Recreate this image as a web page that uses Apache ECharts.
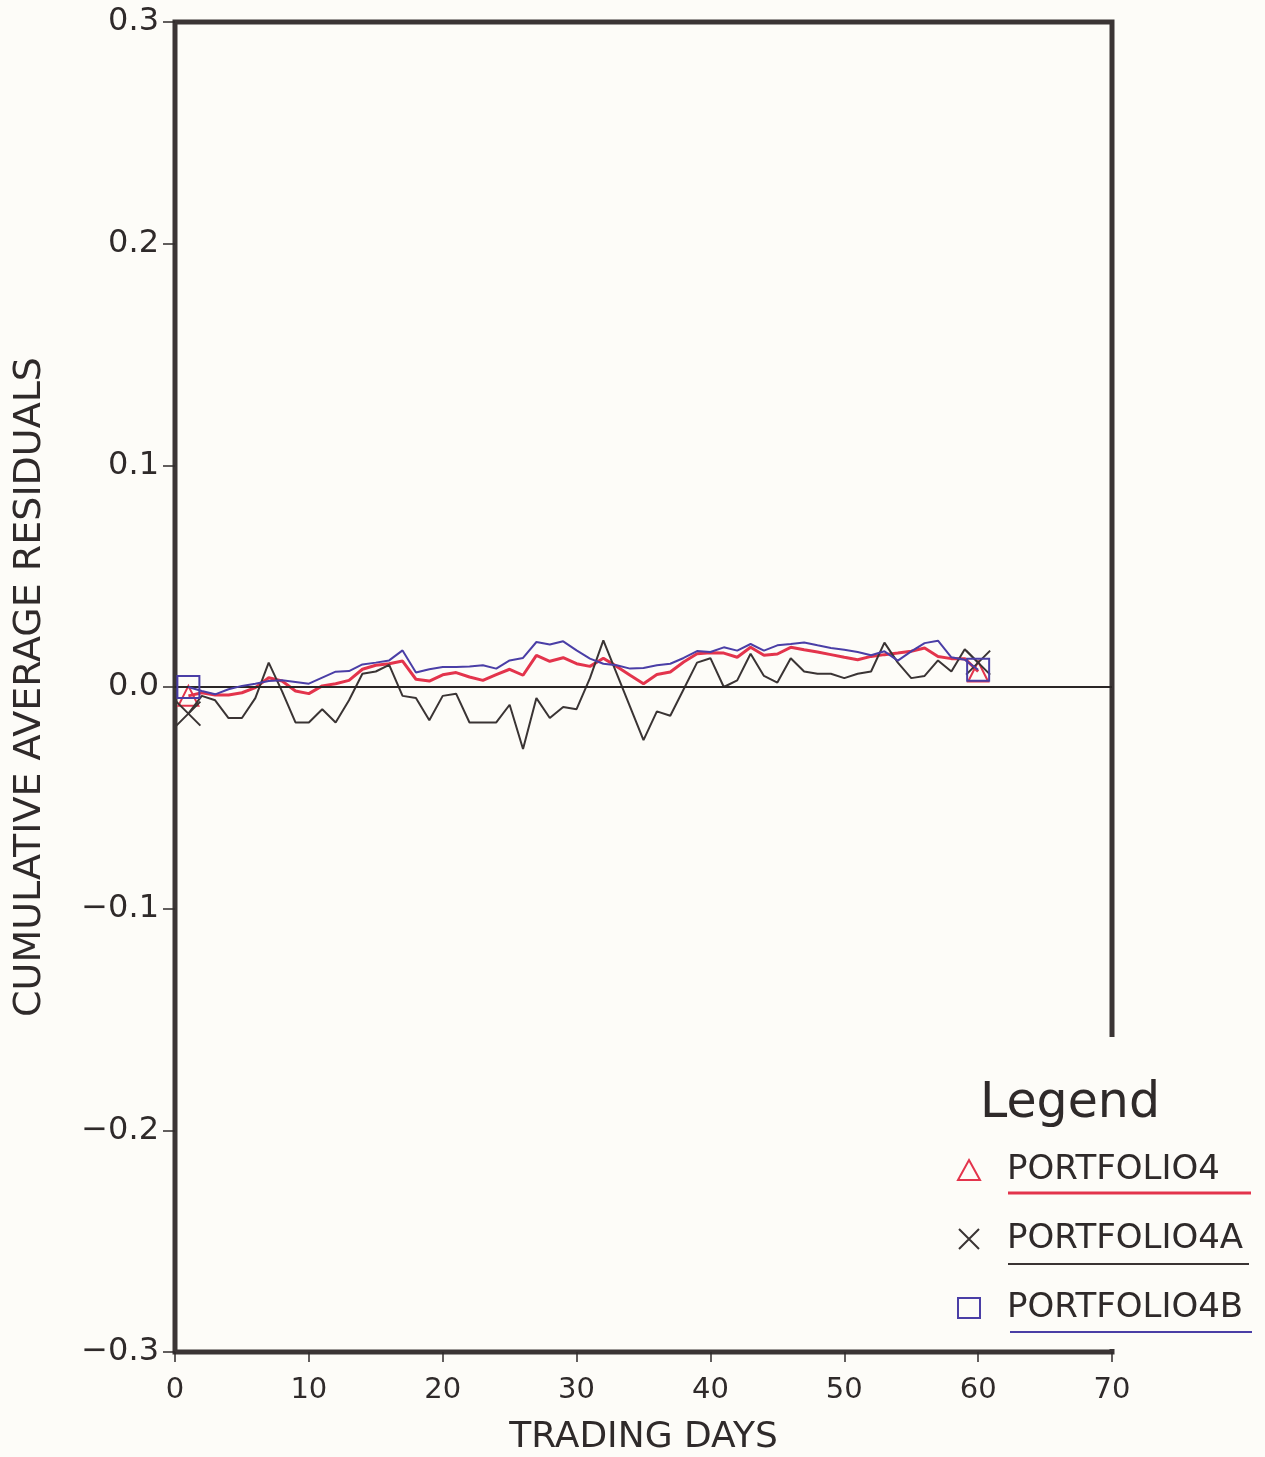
<!DOCTYPE html>
<html>
<head>
<meta charset="utf-8">
<script src="https://cdn.jsdelivr.net/npm/echarts@6/dist/echarts.min.js"></script>
<style>
  html, body { margin: 0; padding: 0; background: #fdfcf8; }
  #chart { width: 1265px; height: 1457px; }
</style>
</head>
<body>
<div id="chart"></div>
<script>
var days = Array.from({ length: 60 }, function (_, i) { return i + 1; });

var seriesNames = ['PORTFOLIO4', 'PORTFOLIO4A', 'PORTFOLIO4B'];

var portfolio4 = [
  -0.004, -0.0026, -0.0036, -0.0036, -0.0026, -0.0003, 0.0042, 0.0027, -0.0018, -0.003,
  0.0005, 0.0015, 0.003, 0.008, 0.0098, 0.0105, 0.0117, 0.0035, 0.0027, 0.0055,
  0.0065, 0.0045, 0.003, 0.0056, 0.008, 0.0053, 0.0143, 0.0116, 0.0132, 0.0105,
  0.0093, 0.013, 0.0093, 0.0053, 0.0015, 0.0056, 0.0068, 0.0113, 0.015, 0.0155,
  0.0153, 0.0134, 0.0179, 0.0143, 0.0149, 0.0179, 0.0168, 0.0158, 0.0146, 0.0134,
  0.0123, 0.0138, 0.0146, 0.0153, 0.0161, 0.0176, 0.0138, 0.0128, 0.0128, 0.007
];

var portfolio4A = [
  -0.012, -0.004, -0.006, -0.014, -0.014, -0.005, 0.011, -0.002, -0.016, -0.016,
  -0.010, -0.016, -0.006, 0.006, 0.007, 0.010, -0.004, -0.005, -0.015, -0.004,
  -0.003, -0.016, -0.016, -0.016, -0.008, -0.028, -0.005, -0.014, -0.009, -0.010,
  0.004, 0.021, 0.006, -0.009, -0.024, -0.011, -0.013, -0.001, 0.011, 0.013,
  0.000, 0.003, 0.015, 0.005, 0.002, 0.013, 0.007, 0.006, 0.006, 0.004,
  0.006, 0.007, 0.020, 0.011, 0.004, 0.005, 0.012, 0.007, 0.017, 0.011
];

var portfolio4B = [
  0.000, -0.0018, -0.0033, -0.001, 0.0005, 0.0015, 0.0027, 0.003, 0.0023, 0.0015,
  0.0042, 0.0069, 0.0072, 0.0102, 0.011, 0.012, 0.0165, 0.0065, 0.008, 0.009,
  0.009, 0.0093, 0.0098, 0.0083, 0.012, 0.0131, 0.0203, 0.0192, 0.0206, 0.0165,
  0.0128, 0.0105, 0.0098, 0.0083, 0.0086, 0.0098, 0.0105, 0.0131, 0.0162, 0.0158,
  0.0179, 0.0164, 0.0194, 0.0164, 0.0188, 0.0194, 0.0201, 0.0188, 0.0176, 0.0168,
  0.0158, 0.0143, 0.0161, 0.0119, 0.0161, 0.0198, 0.0209, 0.0134, 0.0123, 0.0078
];

var ink = '#2f2a2a';
var bg = '#fdfcf8';
var font = 'DejaVu Sans';
var xSymbol = 'path://M0,0L10,10M10,0L0,10';

var styles = [
  { color: '#e3344c', width: 3, symbol: 'triangle', size: 20 },
  { color: '#3a3434', width: 2, symbol: xSymbol, size: 24 },
  { color: '#4a3ea6', width: 2, symbol: 'rect', size: 22 }
];
var values = [portfolio4, portfolio4A, portfolio4B];

function pairs(arr) {
  return arr.map(function (v, i) { return [days[i], v]; });
}

var series = seriesNames.map(function (name, k) {
  var st = styles[k];
  var last = values[k].length - 1;
  var s = {
    name: name,
    type: 'line',
    data: pairs(values[k]),
    symbol: st.symbol,
    showAllSymbol: true,
    symbolSize: function (val, p) {
      return (p.dataIndex === 0 || p.dataIndex === last) ? st.size : 0;
    },
    lineStyle: { color: st.color, width: st.width },
    itemStyle: { color: 'transparent', borderColor: st.color, borderWidth: 2 },
    emphasis: { disabled: true },
    z: 3 + k
  };
  if (k === 1) {
    s.markLine = {
      silent: true,
      symbol: 'none',
      label: { show: false },
      lineStyle: { color: '#2a2626', width: 1.8, type: 'solid' },
      data: [{ yAxis: 0 }]
    };
  }
  return s;
});

var chart = echarts.init(document.getElementById('chart'));

chart.setOption({
  backgroundColor: bg,
  animation: false,
  grid: {
    left: 175, right: 153, top: 22, bottom: 105,
    outerBoundsMode: 'none',
    containLabel: false,
    show: true, borderColor: '#3b3535', borderWidth: 5, backgroundColor: 'transparent'
  },
  xAxis: {
    type: 'value',
    min: 0, max: 70, interval: 10,
    name: 'TRADING DAYS',
    nameLocation: 'middle',
    nameGap: 68,
    nameTextStyle: { fontFamily: font, fontSize: 36, color: ink },
    axisLine: { show: false, onZero: false },
    axisTick: { show: true, inside: false, length: 10, lineStyle: { color: ink, width: 1.5 } },
    axisLabel: { fontFamily: font, fontSize: 29, color: ink, margin: 24 },
    splitLine: { show: false }
  },
  yAxis: {
    type: 'value',
    min: -0.3, max: 0.3, interval: 0.1,
    name: 'CUMULATIVE AVERAGE RESIDUALS',
    nameLocation: 'middle',
    nameGap: 126,
    nameTextStyle: { fontFamily: font, fontSize: 38, color: ink },
    axisLine: { show: false, onZero: false },
    axisTick: { show: true, inside: false, length: 12, lineStyle: { color: ink, width: 1.5 } },
    axisLabel: {
      fontFamily: font, fontSize: 32, color: ink, margin: 16,
      formatter: function (v) {
        var t = Math.abs(v).toFixed(1);
        return v < -1e-9 ? '\u2212' + t : t;
      }
    },
    splitLine: { show: false }
  },
  legend: {
    orient: 'vertical',
    left: 957,
    top: 1153,
    z: 6,
    itemWidth: 22,
    itemHeight: 20,
    itemGap: 35,
    padding: 0,
    selectedMode: false,
    textStyle: { fontFamily: font, fontSize: 34, color: ink, lineHeight: 34, padding: [0, 0, 0, 22] },
    data: seriesNames.map(function (name, k) {
      return {
        name: name,
        icon: styles[k].symbol,
        itemStyle: { color: 'transparent', borderColor: styles[k].color, borderWidth: 2 }
      };
    })
  },
  graphic: [
    {
      type: 'rect', z: 4, silent: true,
      shape: { x: 947, y: 1037, width: 320, height: 312 },
      style: { fill: bg }
    },
    {
      type: 'text', z: 6, left: 980, top: 1080,
      style: { text: 'Legend', fontFamily: font, fontSize: 49, fill: ink }
    },
    {
      type: 'line', z: 6,
      shape: { x1: 1008, y1: 1193, x2: 1251, y2: 1193 },
      style: { stroke: styles[0].color, lineWidth: 3 }
    },
    {
      type: 'line', z: 6,
      shape: { x1: 1008, y1: 1264, x2: 1249, y2: 1264 },
      style: { stroke: styles[1].color, lineWidth: 2 }
    },
    {
      type: 'line', z: 6,
      shape: { x1: 1010, y1: 1332, x2: 1252, y2: 1332 },
      style: { stroke: styles[2].color, lineWidth: 2 }
    }
  ],
  series: series
});
</script>
</body>
</html>
